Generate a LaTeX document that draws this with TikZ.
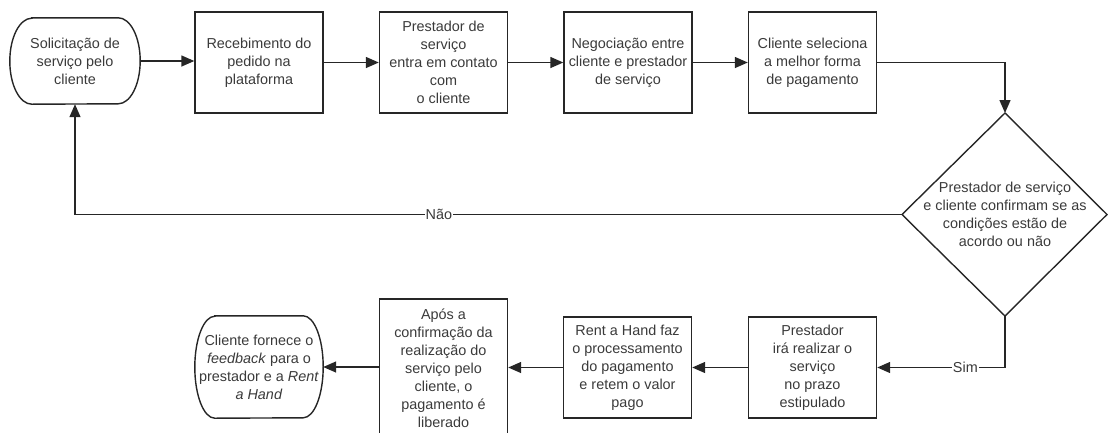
\documentclass[tikz,border=0pt]{standalone}
\usepackage{fontspec}
\setmainfont{Liberation Sans}
\usetikzlibrary{arrows.meta}
\definecolor{ln}{HTML}{262626}
\definecolor{tx}{HTML}{3A3A3A}
\tikzset{
  line/.style={draw=ln, line width=1.4pt},
  arr/.style={line, -{Triangle[length=13pt,width=11pt]}},
  box/.style={line, rectangle, minimum width=128pt, minimum height=101pt, inner sep=2pt, align=center, text=tx},
  termtext/.style={rectangle, minimum width=130pt, minimum height=86pt, inner sep=0pt, align=center, text=tx},
  lbl/.style={fill=white, inner sep=1pt, text=tx},
}
\begin{document}
\begin{tikzpicture}[x=1pt, y=-1pt, font=\fontsize{14.4}{18}\selectfont]
\useasboundingbox (0,0) rectangle (1108,432);
% top row
\node[termtext] (b1) at (75,61) {Solicitação de\\serviço pelo\\cliente};
\draw[line] ([xshift=22pt]b1.north west) -- ([xshift=-22pt]b1.north east)
  arc[start angle=90, end angle=-90, x radius=22pt, y radius=43pt]
  -- ([xshift=22pt]b1.south west)
  arc[start angle=270, end angle=90, x radius=22pt, y radius=43pt] -- cycle;
\node[box] (b2) at (259,62.5) {Recebimento do\\pedido na\\plataforma};
\node[box] (b3) at (443.5,62.5) {Prestador de\\serviço\\entra em contato\\com\\o cliente};
\node[box] (b4) at (628,62.5) {Negociação entre\\cliente e prestador\\de serviço};
\node[box] (b5) at (812.5,62.5) {Cliente seleciona\\a melhor forma\\de pagamento};
% diamond
\coordinate (dt) at (1005,113);
\coordinate (dl) at (902,214.5);
\coordinate (dr) at (1107,214.5);
\coordinate (db) at (1005,316);
\draw[line, line join=miter] (dt) -- (dr) -- (db) -- (dl) -- cycle;
\node[align=center, text=tx, inner sep=0pt] (d) at (1005,214.5) {Prestador de serviço\\e cliente confirmam se as\\condições estão de\\acordo ou não};
% bottom row
\node[box] (c1) at (812.5,367.5) {Prestador\\irá realizar o\\serviço\\no prazo\\estipulado};
\node[box] (c2) at (627.5,367.5) {Rent a Hand faz\\o processamento\\do pagamento\\e retem o valor\\pago};
\node[box, minimum height=138pt] (c3) at (443.5,368) {Após a\\confirmação da\\realização do\\serviço pelo\\cliente, o\\pagamento é\\liberado};
\node[termtext, minimum width=128pt, minimum height=102pt] (c4) at (259,367) {Cliente fornece o\\\textit{feedback} para o\\prestador e a \textit{Rent}\\\textit{a Hand}};
\draw[line] ([xshift=20pt]c4.north west) -- ([xshift=-20pt]c4.north east)
  arc[start angle=90, end angle=-90, x radius=20pt, y radius=51pt]
  -- ([xshift=20pt]c4.south west)
  arc[start angle=270, end angle=90, x radius=20pt, y radius=51pt] -- cycle;
% connectors
\draw[arr] (b1.east) -- (b2.west |- b1.east);
\draw[arr] (b2.east) -- (b3.west);
\draw[arr] (b3.east) -- (b4.west);
\draw[arr] (b4.east) -- (b5.west);
\draw[arr] (b5.east) -| (dt);
\draw[arr] (dl) -- (b1.south |- dl) node[lbl, pos=0.56] (nao) {Não} -- (b1.south);
\draw[arr] (db) |- (c1.east) node[lbl, pos=0.655] (sim) {Sim};
\draw[arr] (c1.west) -- (c2.east);
\draw[arr] (c2.west) -- (c3.east |- c2.west);
\draw[arr] (c3.west |- c4.east) -- (c4.east);
\end{tikzpicture}
\end{document}
